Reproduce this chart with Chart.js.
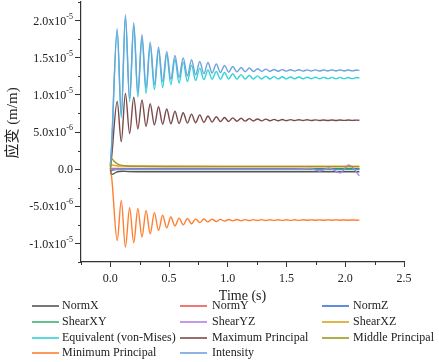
<!DOCTYPE html>
<html>
<head>
<meta charset="utf-8">
<script src="https://cdn.jsdelivr.net/npm/chart.js@4/dist/chart.umd.min.js"></script>
<style>
  html, body { margin: 0; padding: 0; background: #fff; }
  #wrap { width: 439px; height: 362px; position: relative; }
</style>
</head>
<body>
<div id="wrap"><canvas id="strainChart"></canvas></div>
<script>
// values in units of 1e-6 m/m

// main series: start, then peak / trough alternating, then end
const TIME = [0, 0.01, 0.058, 0.093, 0.128, 0.164, 0.199, 0.234, 0.269, 0.304, 0.339, 0.375,
  0.410, 0.445, 0.480, 0.515, 0.550, 0.585, 0.620, 0.656, 0.691, 0.726, 0.761, 0.796,
  0.831, 0.866, 0.902, 0.937, 0.972, 1.007, 1.042, 1.077, 1.113, 1.148, 1.183, 1.218,
  1.253, 1.288, 1.323, 1.359, 1.394, 1.429, 1.464, 1.499, 1.534, 1.569, 1.605, 1.640,
  1.675, 1.710, 1.745, 1.780, 1.815, 1.851, 1.886, 1.921, 1.956, 1.991, 2.026, 2.061,
  2.097, 2.12];

const INTENSITY = [0.5, 3.0, 18.9, 7.3, 20.8, 9.4, 19.7, 10.3, 18.1, 10.9, 17.1, 11.4,
  16.4, 11.8, 15.85, 12.1, 15.3, 12.35, 14.96, 12.55, 14.73, 12.7, 14.5, 12.85,
  14.36, 12.95, 14.15, 13.0, 13.96, 13.05, 13.82, 13.1, 13.69, 13.12, 13.61, 13.14,
  13.51, 13.16, 13.47, 13.17, 13.42, 13.18, 13.4, 13.19, 13.38, 13.2, 13.37, 13.2,
  13.36, 13.21, 13.36, 13.21, 13.35, 13.22, 13.35, 13.22, 13.35, 13.22, 13.34, 13.23,
  13.34, 13.28];

const EQUIVALENT = [0.5, 2.8, 18.6, 6.9, 20.4, 9.1, 19.3, 9.7, 17.7, 10.2, 16.7, 10.7,
  16.0, 11.0, 15.4, 11.35, 14.8, 11.6, 14.4, 11.8, 14.0, 11.95, 13.6, 12.05,
  13.35, 12.1, 13.15, 12.1, 13.0, 12.12, 12.85, 12.12, 12.72, 12.13, 12.62, 12.13,
  12.55, 12.14, 12.5, 12.14, 12.46, 12.15, 12.43, 12.15, 12.41, 12.16, 12.4, 12.16,
  12.38, 12.17, 12.37, 12.17, 12.36, 12.18, 12.35, 12.18, 12.35, 12.18, 12.34, 12.19,
  12.34, 12.27];

const MAX_PRINCIPAL = [0.3, 1.5, 9.1, 3.7, 10.2, 4.8, 9.7, 5.4, 9.3, 5.75, 8.8, 5.95,
  8.4, 6.05, 8.1, 6.1, 7.8, 6.15, 7.6, 6.2, 7.4, 6.25, 7.3, 6.3,
  7.15, 6.35, 7.05, 6.4, 6.95, 6.42, 6.9, 6.45, 6.85, 6.47, 6.8, 6.49,
  6.76, 6.5, 6.73, 6.51, 6.7, 6.52, 6.68, 6.53, 6.66, 6.53, 6.65, 6.54,
  6.64, 6.54, 6.63, 6.55, 6.62, 6.55, 6.62, 6.55, 6.61, 6.56, 6.61, 6.56,
  6.6, 6.58];

const MIN_PRINCIPAL = [-0.5, -1.0, -9.6, -4.2, -10.5, -5.2, -9.9, -5.3, -9.15, -5.55, -8.7, -5.85,
  -8.25, -6.2, -7.9, -6.45, -7.65, -6.6, -7.5, -6.65, -7.35, -6.7, -7.2, -6.72,
  -7.1, -6.74, -7.05, -6.76, -7.0, -6.77, -6.97, -6.78, -6.95, -6.79, -6.93, -6.8,
  -6.92, -6.8, -6.91, -6.81, -6.9, -6.81, -6.9, -6.82, -6.89, -6.82, -6.89, -6.82,
  -6.88, -6.83, -6.88, -6.83, -6.88, -6.83, -6.87, -6.83, -6.87, -6.84, -6.87, -6.84,
  -6.87, -6.85];

// near-zero series
const TIME_SMALL = [0, 0.01, 0.03, 0.06, 0.1, 0.15, 0.25, 0.5, 1.0, 1.5, 2.12];
const MIDDLE_PRINCIPAL = [0, 1.45, 1.1, 0.7, 0.5, 0.42, 0.38, 0.35, 0.34, 0.34, 0.34];
const NORM_X  = [0, -0.7, -0.6, -0.35, -0.28, -0.33, -0.35, -0.36, -0.36, -0.36, -0.36];
const NORM_Y  = [0, 0.1, 0.08, 0.08, 0.08, 0.08, 0.08, 0.08, 0.08, 0.08, 0.08];
const NORM_Z  = [0, -0.2, -0.1, 0.0, 0.05, 0.05, 0.05, 0.05, 0.05, 0.05, 0.05];
const SHEAR_XY = [0, -0.1, -0.05, -0.05, -0.05, -0.05, -0.05, -0.05, -0.05, -0.05, -0.05];
const SHEAR_XZ = [0, 0.6, 0.5, 0.42, 0.4, 0.4, 0.4, 0.4, 0.4, 0.4, 0.4];

const TIME_YZ  = [0, 0.5, 1.0, 1.5, 1.62, 1.7, 1.78, 1.86, 1.955, 2.03, 2.12];
const SHEAR_YZ = [0, 0, 0, 0, 0.02, 0.1, -0.25, 0.15, -0.5, 0.55, -0.9];

const X_TICKS = [0, 0.5, 1.0, 1.5, 2.0, 2.5];
const X_MINOR = [-0.25, 0.25, 0.75, 1.25, 1.75, 2.25];
const Y_TICKS = [-10, -5, 0, 5, 10, 15, 20];
const Y_TICK_MANT = ['-1.0x10', '-5.0x10', '0.0', '5.0x10', '1.0x10', '1.5x10', '2.0x10'];
const Y_TICK_EXP  = ['-5', '-6', '', '-6', '-5', '-5', '-5'];
const Y_MINOR = [-12.5, -7.5, -2.5, 2.5, 7.5, 12.5, 17.5, 22.5];

const SERIES = [
  { label: 'NormX',                  t: TIME_SMALL, v: NORM_X,           color: '#555555' },
  { label: 'NormY',                  t: TIME_SMALL, v: NORM_Y,           color: '#ef5350' },
  { label: 'NormZ',                  t: TIME_SMALL, v: NORM_Z,           color: '#3a6fd8' },
  { label: 'ShearXY',                t: TIME_SMALL, v: SHEAR_XY,         color: '#3cb371' },
  { label: 'ShearYZ',                t: TIME_YZ,    v: SHEAR_YZ,         color: '#b57ee6' },
  { label: 'ShearXZ',                t: TIME_SMALL, v: SHEAR_XZ,         color: '#d9a21b' },
  { label: 'Equivalent (von-Mises)', t: TIME,       v: EQUIVALENT,       color: '#2fd3d8' },
  { label: 'Maximum Principal',      t: TIME,       v: MAX_PRINCIPAL,    color: '#7b4a4a' },
  { label: 'Middle Principal',       t: TIME_SMALL, v: MIDDLE_PRINCIPAL, color: '#9a9a1e' },
  { label: 'Minimum Principal',      t: TIME,       v: MIN_PRINCIPAL,    color: '#ff7f32' },
  { label: 'Intensity',              t: TIME,       v: INTENSITY,        color: '#6ea3db' },
];

const SERIF = '"Liberation Serif", "Times New Roman", serif';

const datasets = SERIES.map((s, i) => ({
  label: s.label,
  data: s.t.map((t, k) => ({ x: t, y: s.v[k] })),
  borderColor: s.color,
  backgroundColor: s.color,
  borderWidth: 1.4,
  pointRadius: 0,
  cubicInterpolationMode: 'monotone',
  order: SERIES.length - i,
}));

const axisExtras = {
  id: 'axisExtras',
  afterDraw(chart) {
    const { ctx, chartArea, scales } = chart;
    ctx.save();
    ctx.strokeStyle = '#333';
    ctx.lineWidth = 1;
    ctx.beginPath();
    X_MINOR.forEach(v => {
      const x = Math.round(scales.x.getPixelForValue(v)) + 0.5;
      ctx.moveTo(x, chartArea.bottom);
      ctx.lineTo(x, chartArea.bottom + 3);
    });
    Y_MINOR.forEach(v => {
      const y = Math.round(scales.y.getPixelForValue(v)) + 0.5;
      ctx.moveTo(chartArea.left, y);
      ctx.lineTo(chartArea.left - 3, y);
    });
    ctx.stroke();

    // y tick labels with superscript exponent
    ctx.fillStyle = '#222';
    ctx.textBaseline = 'middle';
    ctx.textAlign = 'left';
    Y_TICKS.forEach((v, i) => {
      const y = scales.y.getPixelForValue(v);
      ctx.font = '12px ' + SERIF;
      const wm = ctx.measureText(Y_TICK_MANT[i]).width;
      ctx.font = '8px ' + SERIF;
      const we = ctx.measureText(Y_TICK_EXP[i]).width;
      const right = chartArea.left - 8;
      ctx.font = '12px ' + SERIF;
      ctx.fillText(Y_TICK_MANT[i], right - wm - we, y + 1);
      ctx.font = '8px ' + SERIF;
      ctx.fillText(Y_TICK_EXP[i], right - we, y - 4);
    });

    // y axis title
    ctx.translate(13, 123);
    ctx.rotate(-Math.PI / 2);
    ctx.font = '15px ' + SERIF + ', "Noto Sans CJK SC"';
    ctx.textAlign = 'center';
    ctx.textBaseline = 'middle';
    ctx.fillText('应变 (m/m)', 0, 0);
    ctx.restore();

    // legend, three columns
    const colLine = [32, 180, 322];
    const colText = [62, 212, 353];
    const rowY = [306, 322, 338, 353];
    ctx.save();
    ctx.font = '12px ' + SERIF;
    ctx.fillStyle = '#222';
    ctx.textBaseline = 'middle';
    SERIES.forEach((s, i) => {
      const c = i % 3, r = Math.floor(i / 3);
      const y = rowY[r];
      ctx.strokeStyle = s.color;
      ctx.lineWidth = 1.6;
      ctx.beginPath();
      ctx.moveTo(colLine[c], y);
      ctx.lineTo(colLine[c] + 27, y);
      ctx.stroke();
      ctx.fillText(s.label, colText[c], y);
    });
    ctx.restore();
  }
};

new Chart(document.getElementById('strainChart'), {
  type: 'line',
  data: { datasets },
  options: {
    animation: false,
    responsive: true,
    maintainAspectRatio: false,
    layout: { padding: { left: 0, right: 35, top: 2, bottom: 57 } },
    plugins: { legend: { display: false }, tooltip: { enabled: false } },
    scales: {
      x: {
        type: 'linear',
        min: -0.25,
        max: 2.5,
        afterBuildTicks: s => { s.ticks = X_TICKS.map(v => ({ value: v })); },
        afterFit: s => { s.height = 43; },
        ticks: {
          font: { family: SERIF, size: 12 },
          color: '#222',
          padding: 5,
          maxRotation: 0,
          callback: v => v.toFixed(1),
        },
        grid: { drawOnChartArea: false, drawTicks: true, tickLength: 5, color: '#333' },
        border: { color: '#333', width: 1.2 },
        title: { display: true, text: 'Time (s)', font: { family: SERIF, size: 14 }, color: '#222', padding: { top: 0, bottom: 0 } },
      },
      y: {
        min: -12.5,
        max: 22.5,
        afterBuildTicks: s => { s.ticks = Y_TICKS.map(v => ({ value: v })); },
        afterFit: s => { s.width = 81; },
        ticks: { display: false },
        grid: { drawOnChartArea: false, drawTicks: true, tickLength: 6, color: '#333' },
        border: { color: '#333', width: 1.2 },
      }
    }
  },
  plugins: [axisExtras]
});
</script>
</body>
</html>
